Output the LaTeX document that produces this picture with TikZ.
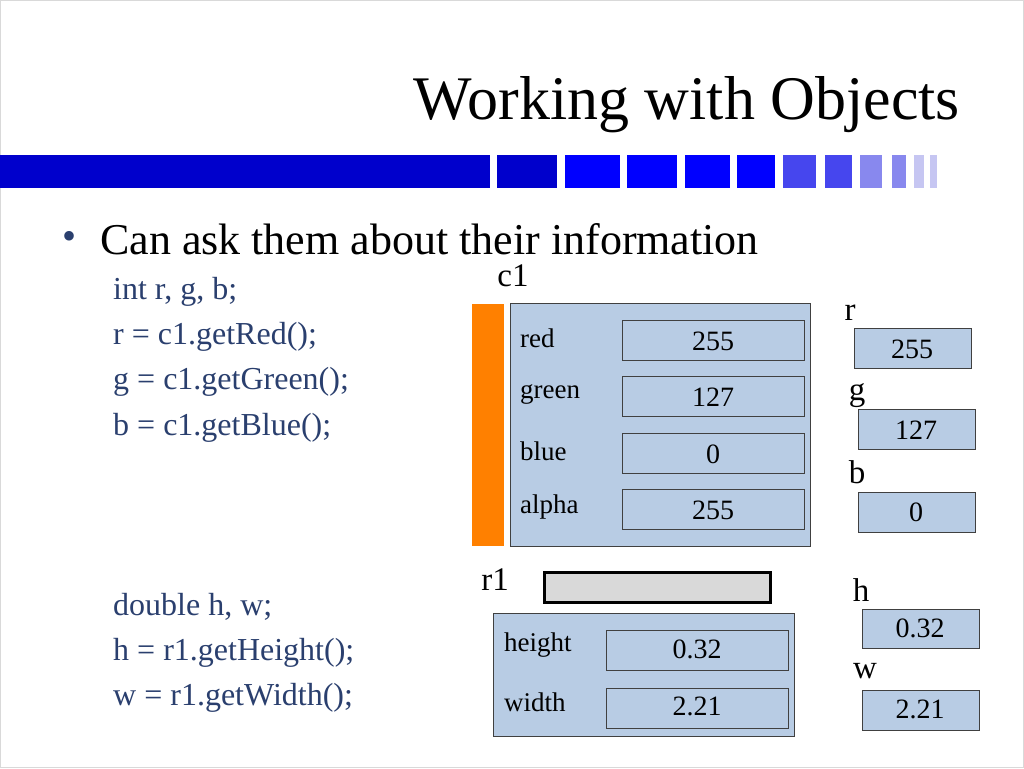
\documentclass[tikz,border=0pt]{standalone}
\usepackage{fontspec}
\setmainfont{Liberation Serif}
\newfontfamily\tms{Liberation Serif}
\definecolor{fillb}{HTML}{B8CCE4}
\definecolor{codec}{HTML}{2A3F6E}
\definecolor{dkb}{HTML}{0000CC}
\definecolor{bb}{HTML}{0000FF}
\definecolor{mb}{HTML}{4646EE}
\definecolor{lb}{HTML}{8888EE}
\definecolor{vlb}{HTML}{C6C6F2}
\definecolor{orng}{HTML}{FF8000}
\begin{document}
\begin{tikzpicture}[x=1pt,y=-1pt,font=\tms,
  obj/.style={draw=black!75,fill=fillb,line width=0.8pt},
  lbl/.style={anchor=west,inner sep=0pt,font=\tms\fontsize{27}{29}\selectfont},
  val/.style={font=\tms\fontsize{28}{30}\selectfont},
  var/.style={inner sep=0pt,font=\tms\fontsize{33}{35}\selectfont},
  code/.style={anchor=west,inner sep=0pt,text=codec,font=\tms\fontsize{32}{34}\selectfont}]
\useasboundingbox (0,0) rectangle (1024,768);
\draw[black!15,line width=1pt] (0.5,0.5) rectangle (1023.5,767.5);
\node[font=\tms\fontsize{62}{64}\selectfont] (title) at (687,105) {Working with Objects};
% banner
\foreach \a/\b/\c in {0/490/dkb,497/557/dkb,565/620/bb,627/677/bb,685/730/bb,737/775/bb,783/816/mb,825/852/mb,860/882/lb,892/906/lb,914/924/vlb,930/937/vlb}
  \fill[\c] (\a,155) rectangle (\b,188);
\node[text=codec,font=\tms\fontsize{40}{40}\selectfont] (bul) at (70,240) {\textbullet};
\node[anchor=west,inner sep=0pt,font=\tms\fontsize{44}{46}\selectfont] (head) at (100,239) {Can ask them about their information};
\node[code] (l1) at (113,292) {int r, g, b;};
\node[code] (l2) at (113,337) {r = c1.getRed();};
\node[code] (l3) at (113,382) {g = c1.getGreen();};
\node[code] (l4) at (113,428) {b = c1.getBlue();};
\node[code] (l5) at (113,607) {double h, w;};
\node[code] (l6) at (113,653) {h = r1.getHeight();};
\node[code] (l7) at (113,698) {w = r1.getWidth();};
% c1
\node[var] (c1) at (513,276) {c1};
\fill[orng] (472,304) rectangle (504,546);
\draw[obj] (510,303) rectangle (810,546);
\foreach \n/\v/\y in {red/255/320,green/127/376,blue/0/433,alpha/255/489}{
  \node[lbl] (\n) at (520,\y+18) {\n};
  \draw[obj] (622,\y) rectangle (804,\y+40);
  \node[val] (v\n) at (713,\y+21) {\v};
}
% r g b
\node[var] (r) at (850,313) {r};
\draw[obj] (854,328) rectangle (971,368); \node[val] (vr) at (912,349) {255};
\node[var] (g) at (857,396) {g};
\draw[obj] (858,409) rectangle (975,449); \node[val] (vg) at (916,430) {127};
\node[var] (b) at (857,472) {b};
\draw[obj] (858,492) rectangle (975,532); \node[val] (vb) at (916,512) {0};
% r1
\node[var] (r1) at (495,580) {r1};
\draw[fill=black!15,line width=3pt] (544,572) rectangle (770,602);
\draw[obj] (493,613) rectangle (794,736);
\node[lbl] (height) at (504,645) {height};
\draw[obj] (606,630) rectangle (788,670); \node[val] (vh1) at (697,649) {0.32};
\node[lbl] (width) at (504,702) {width};
\draw[obj] (606,688) rectangle (788,728); \node[val] (vw1) at (697,706) {2.21};
% h w
\node[var] (h) at (861,590) {h};
\draw[obj] (862,609) rectangle (979,648); \node[val] (vh) at (920,628) {0.32};
\node[var] (w) at (865,671) {w};
\draw[obj] (862,690) rectangle (979,730); \node[val] (vw) at (920,709) {2.21};
\end{tikzpicture}
\end{document}
